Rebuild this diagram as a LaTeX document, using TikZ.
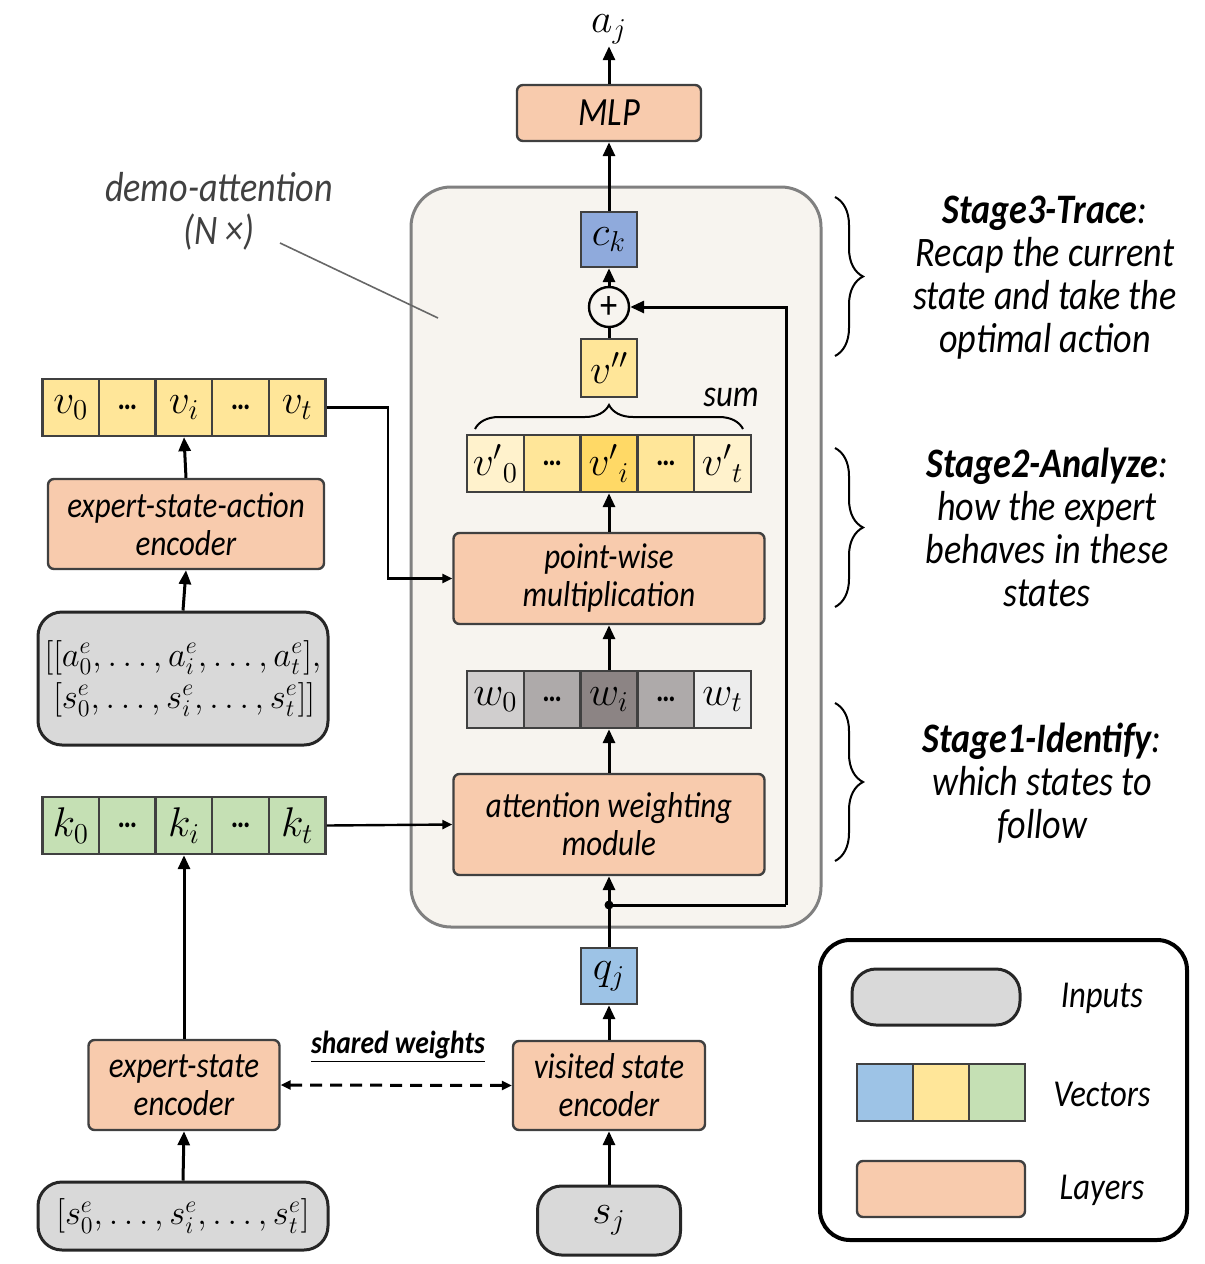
\documentclass[tikz,border=0pt]{standalone}
\usepackage{fontspec}
\setmainfont{Carlito}[FakeStretch=0.86]
\usetikzlibrary{arrows.meta,decorations.pathreplacing}
\definecolor{peach}{HTML}{F8CBAD}
\definecolor{ygold}{HTML}{FFE699}
\definecolor{ylight}{HTML}{FFF2CC}
\definecolor{ydark}{HTML}{FFD966}
\definecolor{vgreen}{HTML}{C5E0B4}
\definecolor{lblue}{HTML}{9DC3E6}
\definecolor{mblue}{HTML}{8FAADC}
\definecolor{ingray}{HTML}{D9D9D9}
\definecolor{bord}{HTML}{404040}
\definecolor{contfill}{HTML}{F7F4EF}
\definecolor{contbord}{HTML}{808080}
\definecolor{wa}{HTML}{D0CECE}
\definecolor{wb}{HTML}{AEAAAA}
\definecolor{wc}{HTML}{8C8484}
\definecolor{wd}{HTML}{EDEDED}
\newcommand\boxfont{\fontsize{18}{19}\selectfont\itshape}
\newcommand\cellfont{\fontsize{22.5}{22.5}\selectfont}
\newcommand\stagefont{\fontsize{21}{21.5}\selectfont\itshape}
\newcommand\legfont{\fontsize{19}{20}\selectfont\itshape}
\newcommand\celldots{{\fontsize{16}{16}\selectfont\bfseries …}}
\begin{document}
\begin{tikzpicture}[x=0.5pt,y=-0.5pt,
  arr/.style={line width=1.5pt,-{Triangle[length=7pt,width=6pt]}},
  plain/.style={line width=1.5pt},
  sarr/.style={line width=1.2pt,-{Triangle[length=5pt,width=4.5pt]}},
  layer/.style={draw=bord,fill=peach,line width=1.2pt,rounded corners=3pt,align=center,inner sep=0pt,font=\boxfont},
  cell/.style={draw=bord,line width=1.2pt,minimum width=28.4pt,minimum height=28.5pt,inner sep=0pt,font=\cellfont},
  inbox/.style={draw=black!85,fill=ingray,line width=1.5pt,rounded corners=12pt,inner sep=0pt,font=\cellfont},
  brc/.style={decorate,line width=1pt},
]
\path[use as bounding box] (0,0) rectangle (1205,1264);

% container
\node[draw=contbord,fill=contfill,line width=1.5pt,rounded corners=20pt,minimum width=205pt,minimum height=370pt,inner sep=0pt] (cont) at (616,557) {};

% top
\node[font=\cellfont,inner sep=1pt] (aj) at (609,29) {$a_j$};
\node[layer,minimum width=92pt,minimum height=28pt,font=\fontsize{20}{20}\selectfont\itshape] (mlp) at (609,113) {MLP};
\node[cell,fill=mblue,minimum width=28pt,minimum height=27.5pt] (ck) at (609,239.5) {$c_k$};
\node[draw=black,circle,fill=contfill,line width=1.2pt,minimum size=20pt,inner sep=0pt,font=\fontsize{20}{20}\selectfont] (plus) at (609,307) {+};
\node[cell,fill=ygold,minimum width=28pt,minimum height=29pt] (vpp) at (609,368) {$v''$};

% v' vector
\node[cell,fill=ylight] (vp1) at (495.4,463.5) {$v'{}_0$};
\node[cell,fill=ygold] (vp2) at (552.2,463.5) {\celldots};
\node[cell,fill=ydark] (vp3) at (609,463.5) {$v'{}_i$};
\node[cell,fill=ygold] (vp4) at (665.8,463.5) {\celldots};
\node[cell,fill=ylight] (vp5) at (722.6,463.5) {$v'{}_t$};
\coordinate (sumL) at (475,429);
\coordinate (sumR) at (743,429);
\draw[brc,decoration={brace,amplitude=12pt}] (sumL) -- (sumR);
\node[font=\fontsize{19}{19}\selectfont\itshape] (sum) at (731,397) {sum};

\node[layer,minimum width=155.5pt,minimum height=45.5pt] (pw) at (609,578.5) {point-wise\\multiplication};

% w vector
\node[cell,fill=wa] (w1) at (495.4,699.5) {$w_0$};
\node[cell,fill=wb] (w2) at (552.2,699.5) {\celldots};
\node[cell,fill=wc] (w3) at (609,699.5) {$w_i$};
\node[cell,fill=wb] (w4) at (665.8,699.5) {\celldots};
\node[cell,fill=wd] (w5) at (722.6,699.5) {$w_t$};

\node[layer,minimum width=155.5pt,minimum height=50.5pt] (att) at (609,824.5) {attention weighting\\module};
\node[circle,fill=black,inner sep=0pt,minimum size=4.5pt] (dot) at (609,905) {};
\coordinate (fbA) at (786,905);

\node[cell,fill=lblue,minimum width=28pt,minimum height=28pt] (qj) at (609,976) {$q_j$};
\node[layer,minimum width=96pt,minimum height=44.5pt] (vis) at (609,1085.5) {visited state\\encoder};
\node[inbox,minimum width=71.5pt,minimum height=34.5pt] (sj) at (609,1220.5) {$s_j$};

% left column
\node[cell,fill=ygold] (v1) at (70.8,407.5) {$v_0$};
\node[cell,fill=ygold] (v2) at (127.4,407.5) {\celldots};
\node[cell,fill=ygold] (v3) at (184,407.5) {$v_i$};
\node[cell,fill=ygold] (v4) at (240.6,407.5) {\celldots};
\node[cell,fill=ygold] (v5) at (297.2,407.5) {$v_t$};
\coordinate (vbend) at (388,407.5);
\node[layer,minimum width=138pt,minimum height=45pt] (esa) at (186,524) {expert-state-action\\encoder};
\node[inbox,minimum width=145pt,minimum height=66.5pt,align=left,font=\fontsize{18.5}{21}\selectfont] (in1) at (183,678.5) {$[[a_0^e,\ldots,a_i^e,\ldots,a_t^e],$\\ $\hphantom{[}[s_0^e,\ldots,s_i^e,\ldots,s_t^e]]$};

\node[cell,fill=vgreen] (k1) at (70.8,825.5) {$k_0$};
\node[cell,fill=vgreen] (k2) at (127.4,825.5) {\celldots};
\node[cell,fill=vgreen] (k3) at (184,825.5) {$k_i$};
\node[cell,fill=vgreen] (k4) at (240.6,825.5) {\celldots};
\node[cell,fill=vgreen] (k5) at (297.2,825.5) {$k_t$};
\node[layer,minimum width=95.5pt,minimum height=45pt] (es) at (184,1085) {expert-state\\encoder};
\node[inbox,minimum width=145pt,minimum height=34pt,font=\fontsize{18.5}{20}\selectfont] (in2) at (183,1216) {$[s_0^e,\ldots,s_i^e,\ldots,s_t^e]$};
\node[font=\fontsize{16}{16}\selectfont\bfseries\itshape] (shw) at (398,1047) {\underline{shared weights}};

% demo attention label
\node[font=\fontsize{21}{21}\selectfont\itshape,text=bord] (demo) at (219,187) {demo-attention};
\node[font=\fontsize{21}{21}\selectfont\itshape,text=bord] (demoN) at (219,232) {(N\,×)};
\coordinate (ptrA) at (280,243);
\coordinate (ptrB) at (438,318);
\draw[contbord!80!black,line width=0.8pt] (ptrA) -- (ptrB);

% connectors
\draw[arr] (mlp.north) -- (aj.south);
\draw[arr] (ck.north) -- (mlp.south);
\draw[arr] (plus.north) -- (ck.south);
\draw[plain] (vpp.north) -- (plus.south);
\draw[arr] (pw.north) -- (vp3.south);
\draw[arr] (w3.north) -- (pw.south);
\draw[arr] (att.north) -- (w3.south);
\draw[arr] (dot.center) -- (att.south);
\draw[plain] (qj.north) -- (dot.center);
\draw[plain] (dot.center) -- (fbA);
\draw[arr] (fbA) |- (plus.east);
\draw[arr] (vis.north) -- (qj.south);
\draw[arr] (sj.north) -- (vis.south);
\draw[arr] (esa.north) -- (v3.south);
\draw[arr] (in1.north) -- (esa.south);
\draw[sarr] (v5.east) -- (vbend) |- (pw.west);
\draw[sarr] (k5.east) -- (att.west);
\draw[arr] (es.north) -- (k3.south);
\draw[arr] (in2.north) -- (es.south);
\draw[line width=1.5pt,dash pattern=on 6pt off 4pt,{Triangle[length=5pt,width=4.5pt]}-{Triangle[length=5pt,width=4.5pt]}] (es.east) -- (vis.west);

% stage braces and text
\coordinate (b3a) at (835,197); \coordinate (b3b) at (835,356);
\coordinate (b2a) at (835,448); \coordinate (b2b) at (835,607);
\coordinate (b1a) at (835,703); \coordinate (b1b) at (835,861);
\draw[brc,decoration={brace,amplitude=14pt}] (b3a) -- (b3b);
\draw[brc,decoration={brace,amplitude=14pt}] (b2a) -- (b2b);
\draw[brc,decoration={brace,amplitude=14pt}] (b1a) -- (b1b);
\node[font=\stagefont,align=center] (st3) at (1045,277.5) {\textbf{Stage3-Trace}:\\Recap the current\\state and take the\\optimal action};
\node[font=\stagefont,align=center] (st2) at (1047,527.5) {\textbf{Stage2-Analyze}:\\how the expert\\behaves in these\\states};
\node[font=\stagefont,align=center] (st1) at (1042,783) {\textbf{Stage1-Identify}:\\which states to\\follow};

% legend
\node[draw=black,line width=2pt,rounded corners=15pt,minimum width=183.5pt,minimum height=150pt,inner sep=0pt] (leg) at (1003.5,1090) {};
\node[inbox,minimum width=84pt,minimum height=28pt] (legin) at (936,997) {};
\node[cell,fill=lblue,minimum width=28pt] (lv1) at (885,1092.5) {};
\node[cell,fill=ygold,minimum width=28pt] (lv2) at (941,1092.5) {};
\node[cell,fill=vgreen,minimum width=28pt] (lv3) at (997,1092.5) {};
\node[layer,minimum width=84pt,minimum height=28pt] (legl) at (941,1189) {};
\node[font=\legfont] (tin) at (1102,998) {Inputs};
\node[font=\legfont] (tve) at (1102,1094) {Vectors};
\node[font=\legfont] (tla) at (1102,1190) {Layers};
\end{tikzpicture}
\end{document}
